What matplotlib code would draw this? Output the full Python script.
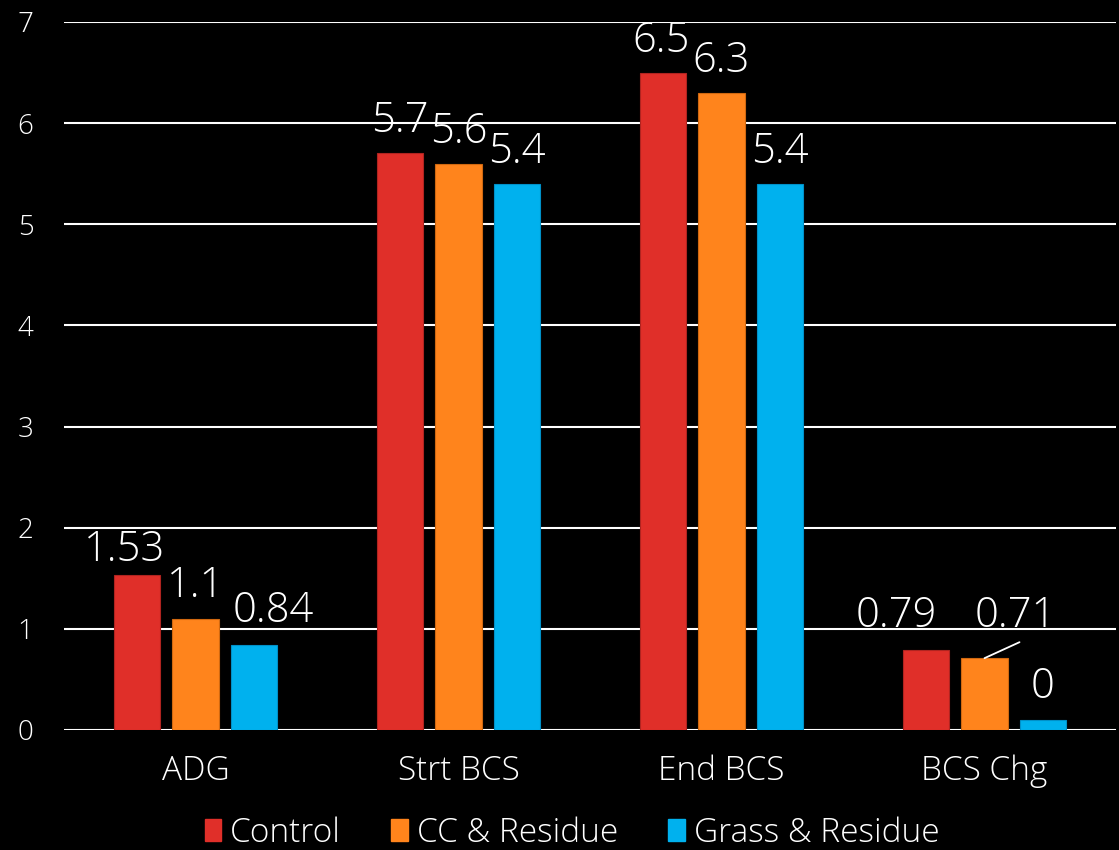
import matplotlib
matplotlib.use("Agg")
import matplotlib.pyplot as plt
from matplotlib.patches import Patch
import numpy as np

categories = ["ADG", "Strt BCS", "End BCS", "BCS Chg"]
series_names = ["Control", "CC & Residue", "Grass & Residue"]
control = [1.53, 5.7, 6.5, 0.79]
cc_residue = [1.1, 5.6, 6.3, 0.71]
grass_residue = [0.84, 5.4, 5.4, 0.1]
# decimals shown in each data label (per series, per category)
label_decimals = [[2, 1, 1, 2], [1, 1, 1, 2], [2, 1, 1, 0]]
y_ticks = [0, 1, 2, 3, 4, 5, 6, 7]

colors = ["#E02F29", "#FF841C", "#00B1EE"]
edge_colors = ["#B02420", "#D06810", "#0090C8"]

plt.rcParams["font.family"] = ["Open Sans", "DejaVu Sans"]
W = "light"

fig = plt.figure(figsize=(11.19, 8.5), dpi=100, facecolor="black")
ax = fig.add_axes([64 / 1119, 120 / 850, 1052 / 1119, 708 / 850])
ax.set_facecolor("black")

x = np.arange(len(categories))
bar_w = 0.175
step = 0.222
all_series = [control, cc_residue, grass_residue]

# label offsets in pixels (dx, dy above bar top)
label_dx = [[-13, 0, -2, -30], [0, 0, 0, 31], [19, 0, 0, 0]]
label_dy = [[14, 21, 21, 23], [22, 21, 21, 31], [23, 21, 21, 22]]

for i, (vals, name) in enumerate(zip(all_series, series_names)):
    pos = x + (i - 1) * step
    ax.bar(pos, vals, width=bar_w, color=colors[i], edgecolor=edge_colors[i],
           linewidth=0.8, label=name, zorder=3)
    for j, (p, v) in enumerate(zip(pos, vals)):
        d = label_decimals[i][j]
        txt = f"{round(v, d):.{d}f}" if d > 0 else f"{round(v):d}"
        ax.annotate(txt, xy=(p, v), xytext=(label_dx[i][j], label_dy[i][j]),
                    textcoords="offset pixels", ha="center", va="baseline",
                    color="white", fontsize=30, fontweight=W, zorder=5)

# leader line for the shifted BCS Chg label
p = x[3] + 0 * step
ax.annotate("", xy=(p, cc_residue[3]), xytext=(35, 16), textcoords="offset pixels",
            arrowprops=dict(arrowstyle="-", color="white", lw=1.3,
                            shrinkA=0, shrinkB=0), zorder=5)

ax.set_xlim(-0.5, 3.5)
ax.set_ylim(0, 7)
ax.set_yticks(y_ticks)
ax.set_yticklabels([str(t) for t in y_ticks])
ax.set_xticks(x)
ax.set_xticklabels(categories)
ax.grid(axis="y", color="white", linewidth=1.5, zorder=0)
ax.set_axisbelow(True)
for s in ax.spines.values():
    s.set_visible(False)
ax.tick_params(axis="y", length=0, pad=22, labelsize=20, labelcolor="white")
ax.tick_params(axis="x", length=0, pad=18, labelsize=24, labelcolor="white")
for lab in ax.get_xticklabels() + ax.get_yticklabels():
    lab.set_fontweight(W)

handles = [Patch(facecolor=c, edgecolor=c) for c in colors]
leg = fig.legend(handles, series_names, loc="center", bbox_to_anchor=(572 / 1119, 17 / 850),
                 ncol=3, frameon=False, handlelength=0.5, handleheight=0.6,
                 handletextpad=0.27, columnspacing=1.5, labelcolor="white",
                 prop={"weight": W, "size": 24})

fig.savefig("out.png", dpi=100, facecolor="black")
